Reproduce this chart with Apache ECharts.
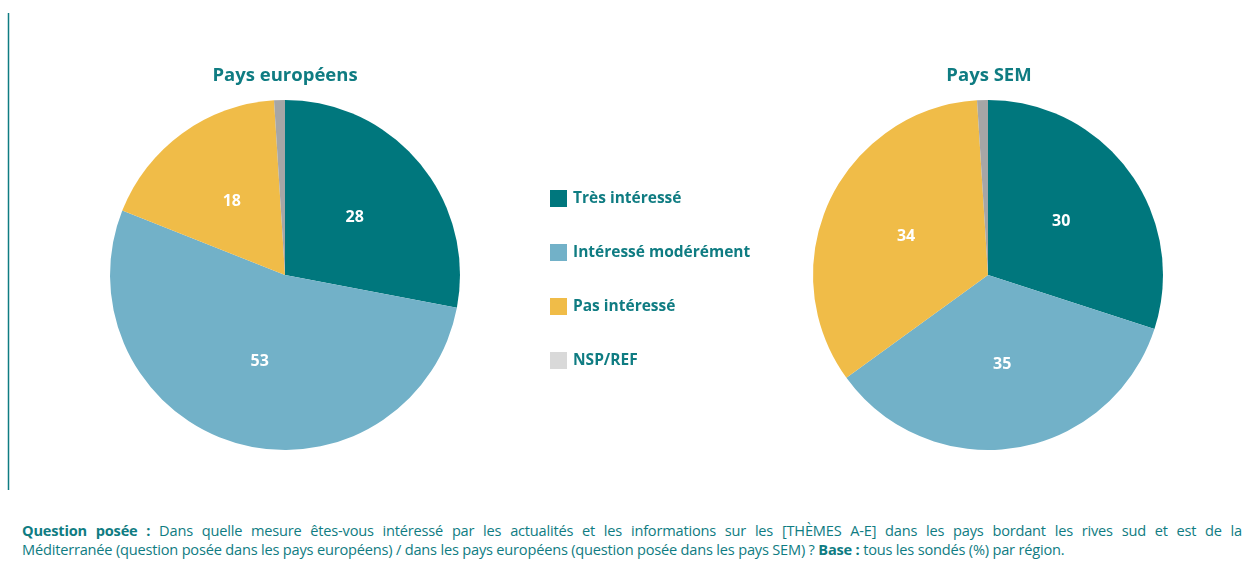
<!DOCTYPE html>
<html>
<head>
<meta charset="utf-8">
<script src="https://cdn.jsdelivr.net/npm/echarts@6/dist/echarts.min.js"></script>
<style>
  html, body { margin: 0; padding: 0; background: #fff; }
  #chart { width: 1245px; height: 510px; }
  .note {
    position: absolute; left: 22px; top: 521px; width: 1220px;
    font-family: "Open Sans", sans-serif; font-size: 14.6px; line-height: 19px;
    color: #0f7c82; letter-spacing: -0.2px;
  }
  .note .l1 { text-align: justify; text-align-last: justify; white-space: nowrap; }
  .note b { font-weight: 700; }
</style>
</head>
<body>
<div id="chart"></div>
<div class="note">
  <div class="l1"><b>Question posée :</b> Dans quelle mesure êtes-vous intéressé par les actualités et les informations sur les [THÈMES A-E] dans les pays bordant les rives sud et est de la</div>
  <div>Méditerranée (question posée dans les pays européens) / dans les pays européens (question posée dans les pays SEM) ? <b>Base :</b> tous les sondés (%) par région.</div>
</div>
<script>
// catégories et valeurs (%)
const categories = ['Très intéressé', 'Intéressé modérément', 'Pas intéressé', 'NSP/REF'];
const europe = [28, 53, 18, 1];
const sem = [30, 35, 34, 1];
const titles = ['Pays européens', 'Pays SEM'];

const colors = ['#00777d', '#72b1c8', '#f0bc48', '#a6a6a6'];
const legendColors = ['#00777d', '#72b1c8', '#f0bc48', '#d9d9d9'];
const teal = '#0f7c82';
const font = '"Open Sans", sans-serif';

const chart = echarts.init(document.getElementById('chart'));

const makePie = (values, center) => ({
  type: 'pie',
  center: center,
  radius: [0, 175],
  startAngle: 90,
  clockwise: true,
  silent: true,
  label: {
    show: true,
    position: 'inside',
    color: '#fff',
    fontFamily: font,
    fontWeight: 'bold',
    fontSize: 16,
    formatter: (p) => (p.value > 2 ? p.value : ''),
  },
  labelLine: { show: false },
  itemStyle: { borderWidth: 0 },
  data: categories.map((name, i) => ({
    name: name,
    value: values[i],
    itemStyle: { color: colors[i] },
  })),
});

chart.setOption({
  animation: false,
  title: [
    { text: titles[0], left: 280, top: 61, textAlign: 'center' },
    { text: titles[1], left: 984, top: 61, textAlign: 'center' },
  ].map((t) => ({
    ...t,
    textStyle: { color: teal, fontFamily: font, fontWeight: 'bold', fontSize: 18.5 },
  })),
  legend: {
    orient: 'vertical',
    left: 545,
    top: 185,
    icon: 'rect',
    itemWidth: 17,
    itemHeight: 17,
    itemGap: 37,
    selectedMode: false,
    textStyle: { color: teal, fontFamily: font, fontWeight: 'bold', fontSize: 15.5, padding: [0, 0, 0, 1] },
    data: categories.map((name, i) => ({ name: name, itemStyle: { color: legendColors[i] } })),
  },
  graphic: [
    {
      type: 'line',
      shape: { x1: 8.5, y1: 13, x2: 8.5, y2: 490 },
      style: { stroke: teal, lineWidth: 1.5 },
    },
  ],
  series: [makePie(europe, [285, 275]), makePie(sem, [988, 275])],
});
</script>
</body>
</html>
